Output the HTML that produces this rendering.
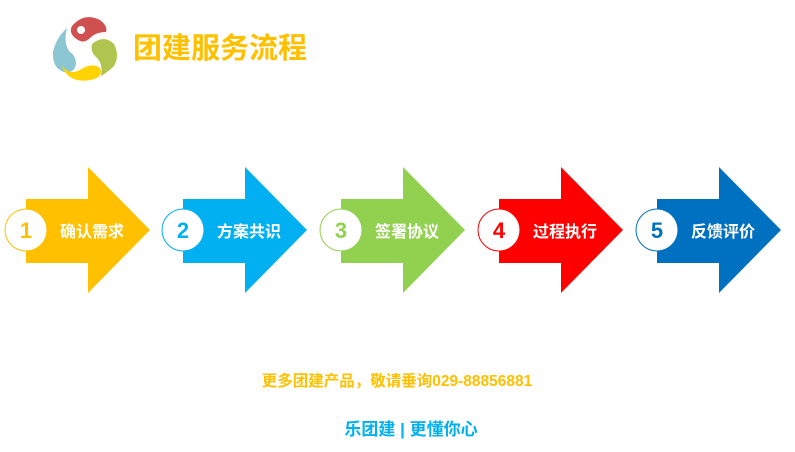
<!DOCTYPE html>
<html><head><meta charset="utf-8"><style>
html,body{margin:0;padding:0;background:#fff;}
body{width:795px;height:447px;overflow:hidden;}
text{font-family:"Liberation Sans","Noto Sans CJK SC",sans-serif;font-weight:bold;}
</style></head><body>
<svg width="795" height="447" xmlns="http://www.w3.org/2000/svg">
<g>
<path d="M72,26 Q84,12 100,20 Q108,26 106,32 Q96,32 90,38 Q84,44 78,40 Q68,34 72,26Z" fill="#D05050"/>
<circle cx="81" cy="30" r="4" fill="#fff"/>
<path d="M67,28 Q56,38 53,52 Q52,68 64,72 Q74,74 76,64 Q76,56 70,52 Q63,44 67,28Z" fill="#8CC6D2"/>
<path d="M92,44 Q104,34 114,44 Q120,56 114,66 Q108,72 101,76 Q103,64 97,58 Q90,52 92,44Z" fill="#B0C550"/>
<path d="M61,64 Q68,76 80,70 Q92,62 100,68 Q104,78 90,80 Q68,84 61,64Z" fill="#FFD200"/>
</g>
<text x="133" y="58" font-size="29" fill="#FFC000">团建服务流程</text>
<g transform="translate(0,0)">
<polygon points="26,199 88,199 88,167 150,230 88,293 88,263 26,263" fill="#FFC000"/>
<circle cx="26" cy="230" r="21" fill="#fff" stroke="#FFC000" stroke-width="1"/>
<text x="26" y="238" font-size="22" fill="#FFC000" text-anchor="middle">1</text>
<text x="92" y="237" font-size="16" fill="#fff" text-anchor="middle">确认需求</text>
</g>
<g transform="translate(157,0)">
<polygon points="26,199 88,199 88,167 150,230 88,293 88,263 26,263" fill="#00B0F0"/>
<circle cx="26" cy="230" r="21" fill="#fff" stroke="#00B0F0" stroke-width="1"/>
<text x="26" y="238" font-size="22" fill="#00B0F0" text-anchor="middle">2</text>
<text x="92" y="237" font-size="16" fill="#fff" text-anchor="middle">方案共识</text>
</g>
<g transform="translate(315,0)">
<polygon points="26,199 88,199 88,167 150,230 88,293 88,263 26,263" fill="#92D050"/>
<circle cx="26" cy="230" r="21" fill="#fff" stroke="#92D050" stroke-width="1"/>
<text x="26" y="238" font-size="22" fill="#92D050" text-anchor="middle">3</text>
<text x="92" y="237" font-size="16" fill="#fff" text-anchor="middle">签署协议</text>
</g>
<g transform="translate(473,0)">
<polygon points="26,199 88,199 88,167 150,230 88,293 88,263 26,263" fill="#FF0000"/>
<circle cx="26" cy="230" r="21" fill="#fff" stroke="#FF0000" stroke-width="1"/>
<text x="26" y="238" font-size="22" fill="#FF0000" text-anchor="middle">4</text>
<text x="92" y="237" font-size="16" fill="#fff" text-anchor="middle">过程执行</text>
</g>
<g transform="translate(631,0)">
<polygon points="26,199 88,199 88,167 150,230 88,293 88,263 26,263" fill="#0070C0"/>
<circle cx="26" cy="230" r="21" fill="#fff" stroke="#0070C0" stroke-width="1"/>
<text x="26" y="238" font-size="22" fill="#0070C0" text-anchor="middle">5</text>
<text x="92" y="237" font-size="16" fill="#fff" text-anchor="middle">反馈评价</text>
</g>
<text x="397" y="386" font-size="15.5" fill="#FFC000" text-anchor="middle">更多团建产品，敬请垂询029-88856881</text>
<text x="411" y="435" font-size="17" fill="#00B0F0" text-anchor="middle">乐团建 | 更懂你心</text>
</svg>
</body></html>
